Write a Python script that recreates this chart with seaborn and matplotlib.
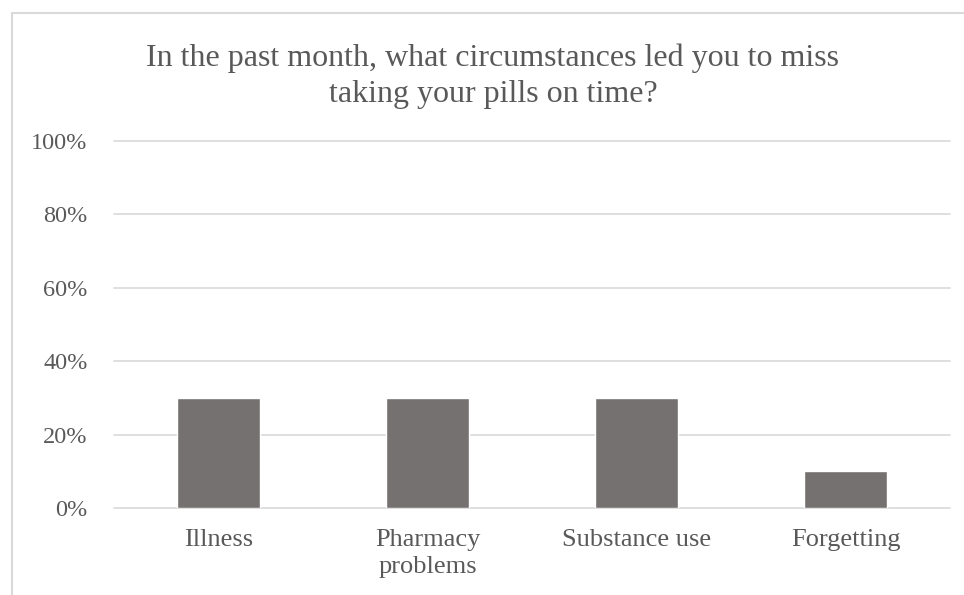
import pandas as pd
import seaborn as sns
import matplotlib.pyplot as plt
from matplotlib.patches import Rectangle

# Data
categories = ['Illness', 'Pharmacy\nproblems', 'Substance use', 'Forgetting']
shares = [0.30, 0.30, 0.30, 0.10]
df = pd.DataFrame({'reason': categories, 'share': shares})

sns.set_style('white')
plt.rcParams['font.family'] = ['Liberation Serif', 'DejaVu Serif']

fig = plt.figure(figsize=(9.64, 5.95), dpi=100)
ax = fig.add_axes([114 / 964, 1 - 508 / 595, 836 / 964, 367 / 595])

# Chart frame (cropped at right/bottom like the original)
fig.patches.append(Rectangle((12 / 964, -0.1), 1.2, 1 - 13 / 595 + 0.1,
                             transform=fig.transFigure, fill=False,
                             edgecolor='#d9d9d9', linewidth=1.5))

sns.barplot(x='reason', y='share', data=df, color='#767171', width=0.4,
            saturation=1, ax=ax)

ax.set_ylim(0, 1)
ax.set_yticks([0, 0.2, 0.4, 0.6, 0.8, 1.0])
ax.set_yticklabels(['0%', '20%', '40%', '60%', '80%', '100%'])
ax.yaxis.grid(True, color='#d9d9d9', linewidth=1.2)
for gl in ax.get_ygridlines():
    gl.set_clip_on(False)
ax.set_axisbelow(True)
for s in ax.spines.values():
    s.set_visible(False)
ax.tick_params(axis='both', length=0, colors='#595959')
ax.tick_params(axis='y', pad=19, labelsize=17.5)
ax.tick_params(axis='x', pad=15, labelsize=19)
for lbl in ax.get_xticklabels():
    lbl.set_linespacing(1.3)
ax.set_xlabel('')
ax.set_ylabel('')

fig.text(493 / 964, 1 - 76 / 595,
         'In the past month, what circumstances led you to miss\ntaking your pills on time?',
         ha='center', va='center', fontsize=23, color='#595959', linespacing=1.3)

fig.savefig('out.png', dpi=100)
